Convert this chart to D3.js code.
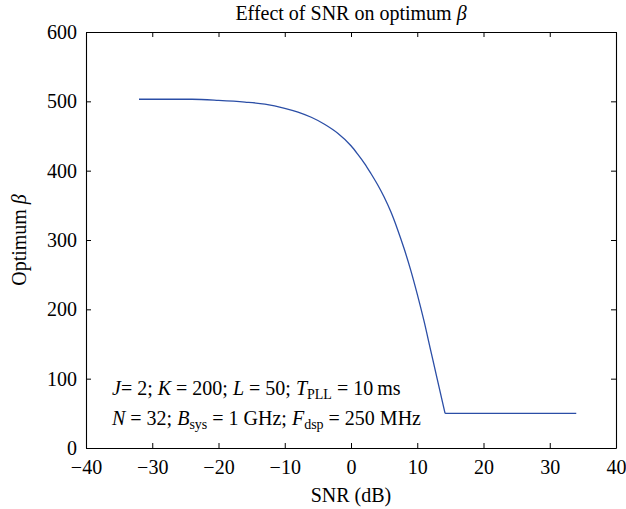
<!DOCTYPE html>
<html><head><meta charset="utf-8">
<script src="https://cdn.jsdelivr.net/npm/d3@7"></script>
<style>body{margin:0;background:#fff}svg text{font-family:"Liberation Serif","Times New Roman",serif;fill:#000}</style>
</head><body><svg id="c" width="626" height="509"></svg>
<script>
const snr = [-32,-24,-20,-16,-13,-10,-8,-6,-4,-2,0,1,2,3,4,5,6,7,8,9,10,11,12,13,14.2,34];
const beta = [503,503,501.5,499,496,490,484.5,477,467,454,436,424,411,396,380,362,341,316,288,257,222,184,142,100,50,50];
const xTicks = [-40,-30,-20,-10,0,10,20,30,40];
const yTicks = [0,100,200,300,400,500,600];

const svg = d3.select("#c");
const m = {l:86,r:616,t:32,b:448};
const x = d3.scaleLinear().domain([-40,40]).range([m.l,m.r]);
const y = d3.scaleLinear().domain([0,600]).range([m.b,m.t]);
const fmt = d => d<0 ? "\u2212"+Math.abs(d) : ""+d;
const fs = 20;

function styleAxis(g){g.selectAll("path").attr("stroke","#000").attr("stroke-width",1.1);g.selectAll("line").attr("stroke","#000");g.selectAll("text").attr("font-size",fs).attr("font-family","Liberation Serif, serif");}
svg.append("g").attr("transform",`translate(0,${m.b})`).call(d3.axisBottom(x).tickValues(xTicks).tickFormat(fmt).tickSizeInner(-5).tickSizeOuter(0).tickPadding(12)).call(styleAxis);
svg.append("g").attr("transform",`translate(0,${m.t})`).call(d3.axisTop(x).tickValues(xTicks).tickFormat("").tickSizeInner(-5).tickSizeOuter(0)).call(styleAxis);
svg.append("g").attr("transform",`translate(${m.l},0)`).call(d3.axisLeft(y).tickValues(yTicks).tickFormat(fmt).tickSizeInner(-5).tickSizeOuter(0).tickPadding(9)).call(styleAxis);
svg.append("g").attr("transform",`translate(${m.r},0)`).call(d3.axisRight(y).tickValues(yTicks).tickFormat("").tickSizeInner(-5).tickSizeOuter(0)).call(styleAxis);

const kink = snr.indexOf(14.2);
const pts = snr.map((s,i)=>[s,beta[i]]);
const line = d3.line().x(d=>x(d[0])).y(d=>y(d[1]));
svg.append("path").attr("d",line.curve(d3.curveMonotoneX)(pts.slice(0,kink+1))).attr("fill","none").attr("stroke","#2b4ea6").attr("stroke-width",1.3);
svg.append("path").attr("d",line.curve(d3.curveLinear)(pts.slice(kink))).attr("fill","none").attr("stroke","#2b4ea6").attr("stroke-width",1.3);

const t = svg.append("text").attr("x",(m.l+m.r)/2).attr("y",20).attr("text-anchor","middle").attr("font-size",20);
t.append("tspan").text("Effect of SNR on optimum ");
t.append("tspan").attr("font-style","italic").text("\u03b2");

svg.append("text").attr("x",(m.l+m.r)/2).attr("y",502).attr("text-anchor","middle").attr("font-size",20).text("SNR (dB)");
const yl = svg.append("text").attr("transform",`translate(26,${(m.t+m.b)/2}) rotate(-90)`).attr("text-anchor","middle").attr("font-size",20);
yl.append("tspan").text("Optimum ");
yl.append("tspan").attr("font-style","italic").text("\u03b2");

function ann(yy, parts){
  const tx = svg.append("text").attr("x",112).attr("y",yy).attr("font-size",20);
  parts.forEach(p=>{
    const s = tx.append("tspan").text(p[0]);
    if(p[1]==="i") s.attr("font-style","italic");
    if(p[1]==="sub") s.attr("font-size",14).attr("dy",4);
    if(p[1]==="up") s.attr("dy",-4);
  });
}
ann(395,[["J","i"],["= 2; "],["K","i"],[" = 200; "],["L","i"],[" = 50; "],["T","i"],["PLL","sub"],[" = 10\u2009ms","up"]]);
ann(425,[["N","i"],[" = 32; "],["B","i"],["sys","sub"],[" = 1 GHz; ","up"],["F","i"],["dsp","sub"],[" = 250 MHz","up"]]);
</script></body></html>
